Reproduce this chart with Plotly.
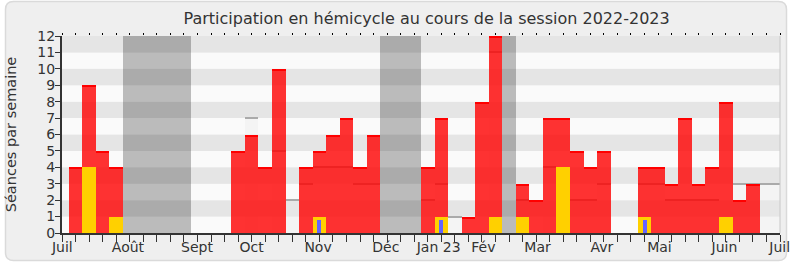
import plotly.graph_objects as go

# ---- data (weeks 1..53 of the session, week 0 = start of July 2022) ----
weeks = list(range(1, 54))
presence = [4, 9, 5, 4, 0, 0, 0, 0, 0, 0, 0, 0, 5, 6, 4, 10, 0, 4, 5, 6, 7, 4, 6,
            0, 0, 0, 4, 7, 0, 1, 8, 12, 0, 3, 2, 7, 7, 5, 4, 5, 0, 0, 4, 4, 3, 7,
            3, 4, 8, 2, 3, 0, 0]
interventions = {2: 4, 4: 1, 19: 1, 28: 1, 32: 1, 34: 1, 37: 4, 43: 1, 49: 1}
questions = {19: 0.8, 28: 0.8, 43: 0.8}
median = {14: 7, 16: 5, 17: 2, 18: 3, 19: 4, 20: 4, 21: 4, 22: 3, 23: 3, 27: 2,
          28: 3, 29: 1, 32: 11, 34: 2, 36: 4, 38: 2, 39: 2, 40: 3, 43: 3, 44: 3,
          45: 2, 46: 2, 47: 2, 48: 2, 50: 3, 51: 3, 52: 3, 53: 3}
vacances = [5, 6, 7, 8, 9, 24, 25, 26, 33]
month_pos = [0.02, 4.87, 9.96, 14.0, 18.9, 23.9, 27.8, 31.1, 35.1, 39.85, 44.1, 48.9, 52.98]
month_txt = ["Juil", "Août", "Sept", "Oct", "Nov", "Déc", "Jan 23", "Fév", "Mar",
             "Avr", "Mai", "Juin", "Juil"]
y_max = 12
n_weeks = 53

FONT = "DejaVu Sans"
TXT = "#333333"

fig = go.Figure()

# median of deputies (light area + grey top line)
mx = list(median.keys())
my = list(median.values())
fig.add_trace(go.Bar(x=mx, y=my, width=1, marker=dict(color="rgba(235,235,235,0.4)", line_width=0),
                     hoverinfo="skip", showlegend=False))
fig.add_trace(go.Bar(x=mx, y=[0.07] * len(my), base=[v - 0.035 for v in my], width=1,
                     marker=dict(color="#aaaaaa", line_width=0), hoverinfo="skip", showlegend=False))

# holidays
fig.add_trace(go.Bar(x=vacances, y=[y_max] * len(vacances), width=1,
                     marker=dict(color="rgba(0,0,0,0.25)", line_width=0),
                     hoverinfo="skip", showlegend=False))

# presence (red)
px_ = [w for w, v in zip(weeks, presence) if v > 0]
pv_ = [v for v in presence if v > 0]
fig.add_trace(go.Bar(x=px_, y=pv_, width=1, marker=dict(color="rgba(255,0,0,0.8)", line_width=0),
                     name="Présences", showlegend=False))
fig.add_trace(go.Bar(x=px_, y=[0.1] * len(pv_), base=[v - 0.1 for v in pv_], width=1,
                     marker=dict(color="#ff0000", line_width=0), hoverinfo="skip", showlegend=False))

# interventions (yellow)
fig.add_trace(go.Bar(x=list(interventions.keys()), y=list(interventions.values()), width=1,
                     marker=dict(color="#ffd000", line_width=0), name="Interventions", showlegend=False))
# questions (blue)
fig.add_trace(go.Bar(x=list(questions.keys()), y=list(questions.values()), width=0.3,
                     marker=dict(color="#6464ff", line_width=0), name="Questions", showlegend=False))

# dummy trace for the top tick axis
fig.add_trace(go.Scatter(x=[None], y=[None], xaxis="x2", showlegend=False, hoverinfo="skip"))

shapes = []
# outer rounded frame (paper coords)
L, T, Wp, Hp = 62, 36, 718, 197
def px(x): return (x - L) / Wp
def py(y): return (T + Hp - y) / Hp
x0, x1, y0, y1 = px(5.5), px(786.5), py(260.5), py(1.5)
rx, ry = 8 / Wp, 8 / Hp
path = (f"M {x0+rx},{y1} L {x1-rx},{y1} Q {x1},{y1} {x1},{y1-ry} L {x1},{y0+ry} "
        f"Q {x1},{y0} {x1-rx},{y0} L {x0+rx},{y0} Q {x0},{y0} {x0},{y0+ry} "
        f"L {x0},{y1-ry} Q {x0},{y1} {x0+rx},{y1} Z")
shapes.append(dict(type="path", path=path, xref="paper", yref="paper", layer="below",
                   fillcolor="#efefef", line=dict(color="#dadada", width=1.5)))
# stripes
for i in range(y_max):
    shapes.append(dict(type="rect", xref="paper", yref="y", x0=0, x1=1, y0=i, y1=i + 1,
                       layer="below", line_width=0,
                       fillcolor="#e5e5e5" if i % 2 == 1 else "#fafafa"))
shapes.append(dict(type="line", xref="paper", yref="paper", x0=1, x1=1, y0=0, y1=1,
                   line=dict(color="#c8c8c8", width=1)))

fig.update_layout(
    width=790, height=267,
    margin=dict(l=62, r=10, t=36, b=34, autoexpand=False),
    paper_bgcolor="white", plot_bgcolor="#fafafa",
    barmode="overlay", bargap=0,
    font=dict(family=FONT, color=TXT, size=14),
    title=dict(text="Participation en hémicycle au cours de la session 2022-2023",
               font=dict(family=FONT, size=16, color=TXT), x=0.54, xanchor="center",
               y=0.93, yanchor="middle"),
    shapes=shapes,
    xaxis=dict(range=[0, n_weeks], tickmode="array", tickvals=month_pos, ticktext=month_txt,
               ticks="", showgrid=False, zeroline=False, showline=True, linecolor="#333333",
               linewidth=2, tickfont=dict(size=14, color=TXT), ticklabelstandoff=0,
               ticklabeloverflow="allow", automargin=False,
               minor=dict(tickmode="array", tickvals=list(range(n_weeks + 1)), ticks="outside",
                          ticklen=7, tickwidth=1, tickcolor="#333333", showgrid=False)),
    xaxis2=dict(range=[0, n_weeks], overlaying="x", side="top", tickmode="array",
                tickvals=list(range(n_weeks + 1)), ticks="outside", ticklen=2, tickwidth=1,
                tickcolor="black", showticklabels=False, showgrid=False, zeroline=False,
                showline=False, automargin=False),
    yaxis=dict(range=[0, y_max], tickmode="array", tickvals=list(range(y_max + 1)),
               ticks="outside", ticklen=5, tickcolor="#333333", showline=True,
               linecolor="#333333", linewidth=2, showgrid=False, zeroline=False,
               tickfont=dict(size=14, color=TXT), ticklabelstandoff=-3,
               title=dict(text="Séances par semaine", font=dict(size=14.5, color=TXT), standoff=17)),
)

fig.write_html("out.html")
